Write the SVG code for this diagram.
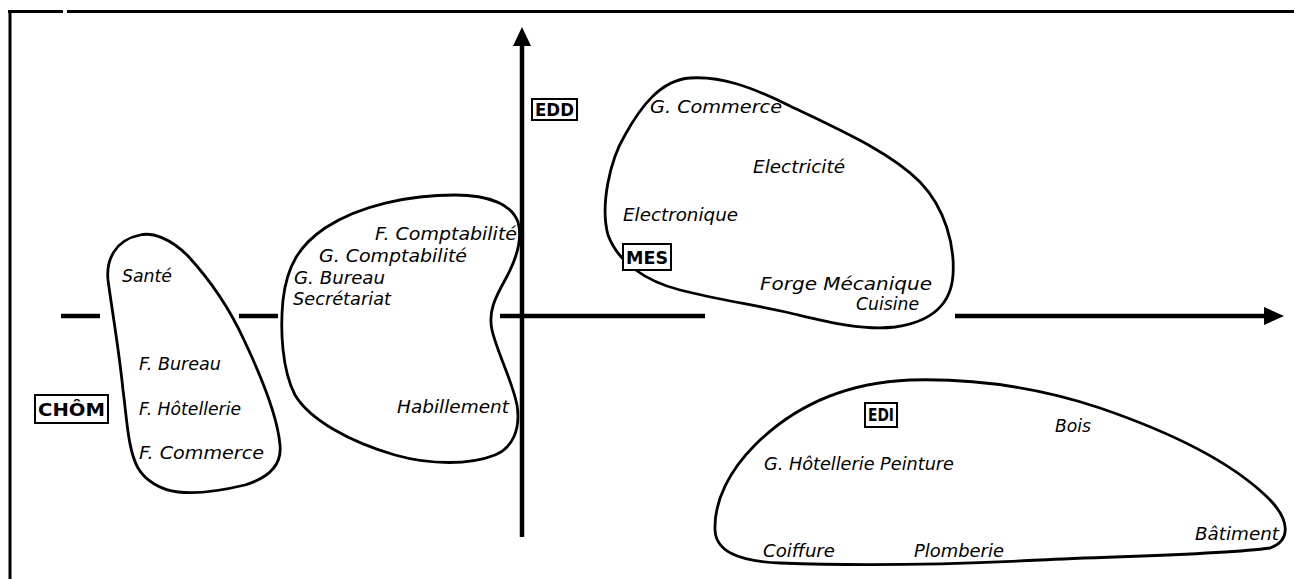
<svg xmlns="http://www.w3.org/2000/svg" width="1294" height="579" viewBox="0 0 1294 579">
  <style>
    .frame { stroke: #000; stroke-width: 3; fill: none; }
    .axis { stroke: #000; stroke-width: 4.5; fill: none; }
    .blob { stroke: #000; stroke-width: 2.8; fill: none; stroke-linejoin: round; }
    .lbl { font-family: "DejaVu Sans", "Liberation Sans", sans-serif; font-style: italic; font-size: 17px; fill: #000; }
    .tag { font-family: "DejaVu Sans", "Liberation Sans", sans-serif; font-weight: bold; font-size: 17px; fill: #000; }
    .tagbox { fill: #fff; stroke: #000; stroke-width: 2; }
  </style>

  <rect width="1294" height="579" fill="#fff"/>

  <!-- outer frame: top rule (with small break) and left rule -->
  <g id="frame">
    <line class="frame" x1="8" y1="11.5" x2="63" y2="11.5"/>
    <line class="frame" x1="67" y1="11.5" x2="1294" y2="11.5"/>
    <line class="frame" x1="10" y1="10" x2="10" y2="579"/>
  </g>

  <!-- axes -->
  <g id="connectors">
    <line class="axis" x1="61" y1="316" x2="100" y2="316"/>
    <line class="axis" x1="239" y1="316" x2="278" y2="316"/>
    <line class="axis" x1="500" y1="316" x2="705" y2="316"/>
    <line class="axis" x1="955" y1="316" x2="1267" y2="316"/>
    <polygon points="1264,307 1284,316 1264,325" fill="#000"/>
    <line class="axis" x1="522" y1="44" x2="522" y2="537"/>
    <polygon points="513,46 522,27 531,46" fill="#000"/>
  </g>

  <!-- cluster around CHÔM -->
  <g id="cluster-chom">
    <path class="blob" d="M140,235 C152,232 170,238 188,256 C210,280 228,305 244,340 C262,378 278,420 280,445 C282,465 268,478 245,485 C220,491 195,494 178,492 C160,490 145,480 138,468 C128,450 127,420 123,390 C119,350 112,310 108,280 C106,260 115,240 140,235 Z"/>
    <text class="lbl" x="122" y="282" textLength="50" lengthAdjust="spacingAndGlyphs">Santé</text>
    <text class="lbl" x="139" y="370" textLength="82" lengthAdjust="spacingAndGlyphs">F. Bureau</text>
    <text class="lbl" x="139" y="415" textLength="102" lengthAdjust="spacingAndGlyphs">F. Hôtellerie</text>
    <text class="lbl" x="139" y="459" textLength="125" lengthAdjust="spacingAndGlyphs">F. Commerce</text>
    <rect class="tagbox" x="35" y="395" width="73" height="28"/>
    <text class="tag" x="38" y="416" font-size="19" textLength="67" lengthAdjust="spacingAndGlyphs">CHÔM</text>
  </g>

  <!-- bean-shaped middle cluster -->
  <g id="cluster-middle">
    <path class="blob" d="M455,195 C490,195 512,205 518,222 C523,240 515,262 505,280 C495,298 488,312 492,330 C497,352 512,380 517,405 C521,430 512,448 495,455 C470,465 430,465 395,455 C350,442 310,420 295,395 C282,370 280,330 283,300 C287,265 300,245 325,228 C360,205 410,195 455,195 Z"/>
    <text class="lbl" x="375" y="240" textLength="142" lengthAdjust="spacingAndGlyphs">F. Comptabilité</text>
    <text class="lbl" x="319" y="262" textLength="148" lengthAdjust="spacingAndGlyphs">G. Comptabilité</text>
    <text class="lbl" x="294" y="284" textLength="91" lengthAdjust="spacingAndGlyphs">G. Bureau</text>
    <text class="lbl" x="293" y="305" textLength="98" lengthAdjust="spacingAndGlyphs">Secrétariat</text>
    <text class="lbl" x="397" y="413" textLength="112" lengthAdjust="spacingAndGlyphs">Habillement</text>
  </g>

  <!-- EDD label on the vertical axis -->
  <g id="tag-edd">
    <rect class="tagbox" x="532" y="99" width="45" height="21"/>
    <text class="tag" x="535" y="116" textLength="39" lengthAdjust="spacingAndGlyphs">EDD</text>
  </g>

  <!-- cluster around MES -->
  <g id="cluster-mes">
    <path class="blob" d="M690,78 C720,76 750,86 790,106 C840,130 890,152 920,182 C945,208 955,245 953,275 C951,305 930,322 895,327 C860,331 820,320 790,313 C755,305 715,299 680,290 C645,281 618,262 608,235 C600,205 610,160 625,135 C640,108 660,80 690,78 Z"/>
    <text class="lbl" x="650" y="113" textLength="132" lengthAdjust="spacingAndGlyphs">G. Commerce</text>
    <text class="lbl" x="753" y="173" textLength="92" lengthAdjust="spacingAndGlyphs">Electricité</text>
    <text class="lbl" x="623" y="221" textLength="115" lengthAdjust="spacingAndGlyphs">Electronique</text>
    <rect class="tagbox" x="623" y="244" width="48" height="26"/>
    <text class="tag" x="626" y="264" textLength="42" lengthAdjust="spacingAndGlyphs">MES</text>
    <text class="lbl" x="760" y="290" textLength="172" lengthAdjust="spacingAndGlyphs">Forge  Mécanique</text>
    <text class="lbl" x="856" y="310" textLength="63" lengthAdjust="spacingAndGlyphs">Cuisine</text>
  </g>

  <!-- cluster around EDI -->
  <g id="cluster-edi">
    <path class="blob" d="M910,380 C980,378 1040,388 1100,408 C1170,432 1230,462 1265,495 C1290,518 1292,540 1270,548 C1220,555 1120,556 1040,560 C960,564 860,566 780,563 C735,561 716,550 715,530 C714,500 730,470 755,445 C790,410 840,383 910,380 Z"/>
    <rect class="tagbox" x="865" y="403" width="32" height="24"/>
    <text class="tag" x="868" y="421" textLength="26" lengthAdjust="spacingAndGlyphs">EDI</text>
    <text class="lbl" x="1055" y="432" textLength="36" lengthAdjust="spacingAndGlyphs">Bois</text>
    <text class="lbl" x="764" y="470" textLength="190" lengthAdjust="spacingAndGlyphs">G. Hôtellerie Peinture</text>
    <text class="lbl" x="763" y="557" textLength="72" lengthAdjust="spacingAndGlyphs">Coiffure</text>
    <text class="lbl" x="914" y="557" textLength="90" lengthAdjust="spacingAndGlyphs">Plomberie</text>
    <text class="lbl" x="1195" y="540" textLength="84" lengthAdjust="spacingAndGlyphs">Bâtiment</text>
  </g>
</svg>
